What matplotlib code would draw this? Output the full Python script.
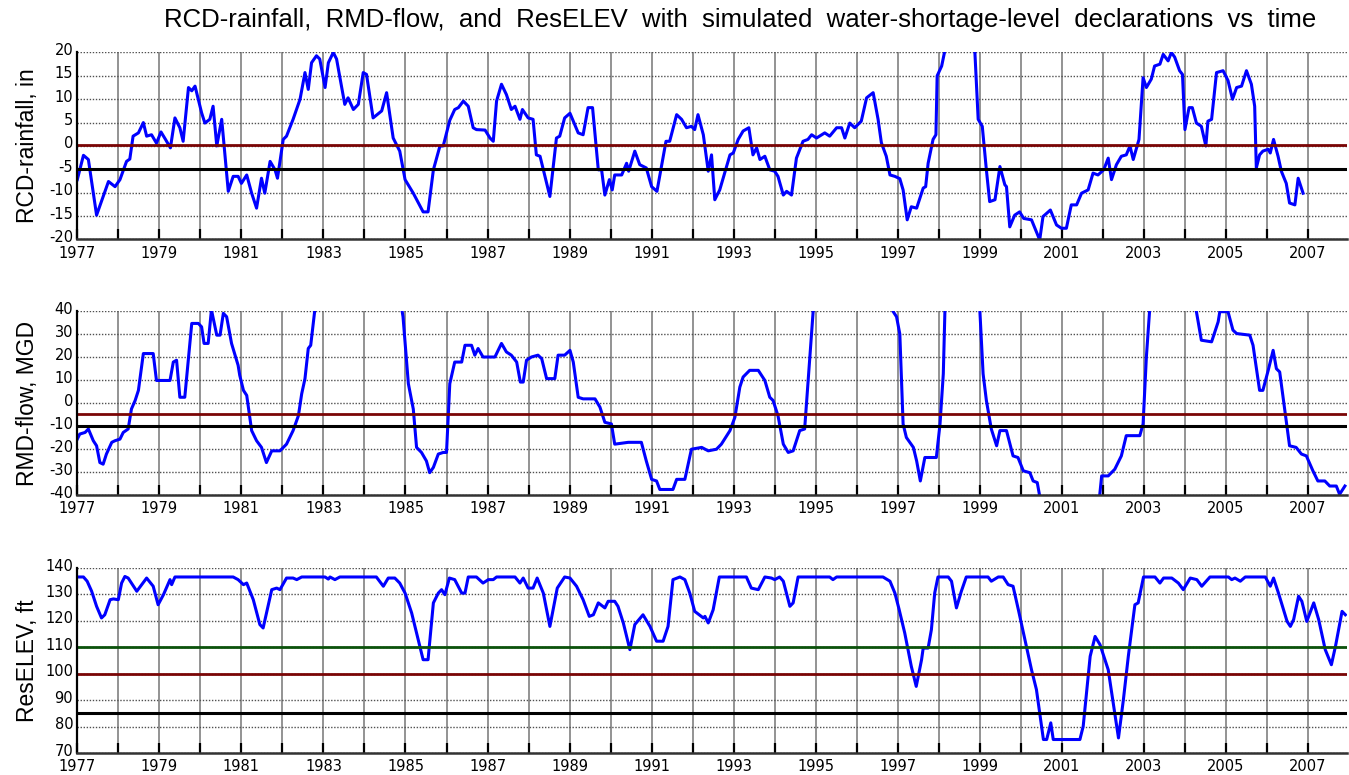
import numpy as np
import matplotlib
matplotlib.use("Agg")
import matplotlib.pyplot as plt
import matplotlib.transforms as mtransforms

# RCD-rainfall, in (peaks beyond the axis are estimates)
rcd_year = [1977.00, 1977.15, 1977.27, 1977.47, 1977.76, 1977.92, 1978.04, 1978.20, 1978.28, 1978.36,
            1978.49, 1978.61, 1978.69, 1978.81, 1978.93, 1979.04, 1979.15, 1979.27, 1979.38, 1979.50,
            1979.58, 1979.71, 1979.79, 1979.87, 1980.03, 1980.11, 1980.23, 1980.31, 1980.40, 1980.52,
            1980.68, 1980.80, 1980.92, 1981.00, 1981.13, 1981.25, 1981.37, 1981.49, 1981.57, 1981.70,
            1981.82, 1981.88, 1982.02, 1982.10, 1982.26, 1982.43, 1982.55, 1982.63, 1982.71, 1982.83,
            1982.91, 1983.04, 1983.12, 1983.24, 1983.32, 1983.52, 1983.60, 1983.73, 1983.85, 1983.97,
            1984.05, 1984.21, 1984.42, 1984.54, 1984.70, 1984.86, 1984.99, 1985.19, 1985.43, 1985.55,
            1985.68, 1985.84, 1985.92, 1986.08, 1986.20, 1986.29, 1986.41, 1986.53, 1986.65, 1986.73,
            1986.94, 1987.06, 1987.14, 1987.22, 1987.34, 1987.46, 1987.58, 1987.67, 1987.79, 1987.85,
            1987.99, 1988.11, 1988.19, 1988.28, 1988.52, 1988.68, 1988.76, 1988.88, 1989.01, 1989.21,
            1989.33, 1989.45, 1989.56, 1989.70, 1989.78, 1989.86, 1989.97, 1990.04, 1990.10, 1990.27,
            1990.39, 1990.44, 1990.59, 1990.71, 1990.87, 1991.00, 1991.13, 1991.35, 1991.44, 1991.61,
            1991.73, 1991.85, 1991.97, 1992.05, 1992.13, 1992.26, 1992.38, 1992.46, 1992.54, 1992.66,
            1992.78, 1992.91, 1992.99, 1993.11, 1993.23, 1993.37, 1993.47, 1993.56, 1993.64, 1993.76,
            1993.88, 1994.00, 1994.08, 1994.21, 1994.29, 1994.41, 1994.53, 1994.69, 1994.81, 1994.90,
            1995.02, 1995.22, 1995.34, 1995.51, 1995.63, 1995.71, 1995.83, 1995.95, 1996.11, 1996.24,
            1996.40, 1996.52, 1996.60, 1996.72, 1996.81, 1996.93, 1997.05, 1997.13, 1997.23, 1997.33,
            1997.46, 1997.62, 1997.68, 1997.74, 1997.86, 1997.93, 1997.96, 1998.07, 1998.15, 1998.45,
            1998.88, 1998.96, 1999.06, 1999.16, 1999.24, 1999.37, 1999.49, 1999.61, 1999.65, 1999.73,
            1999.85, 1999.97, 2000.07, 2000.26, 2000.38, 2000.46, 2000.54, 2000.72, 2000.87, 2000.99,
            2001.11, 2001.23, 2001.36, 2001.48, 2001.64, 2001.76, 2001.88, 2002.02, 2002.13, 2002.21,
            2002.33, 2002.45, 2002.57, 2002.66, 2002.74, 2002.88, 2002.98, 2003.06, 2003.18, 2003.26,
            2003.39, 2003.47, 2003.59, 2003.67, 2003.75, 2003.87, 2003.94, 2004.00, 2004.10, 2004.18,
            2004.28, 2004.40, 2004.51, 2004.56, 2004.65, 2004.77, 2004.93, 2005.05, 2005.16, 2005.26,
            2005.38, 2005.50, 2005.62, 2005.70, 2005.74, 2005.82, 2005.90, 2006.03, 2006.08, 2006.16,
            2006.27, 2006.35, 2006.47, 2006.55, 2006.68, 2006.76, 2006.88]
rcd_in = [-7.2, -2.0, -2.9, -14.8, -7.6, -8.7, -7.2, -3.3, -2.8, 2.1,
          2.8, 5.0, 2.1, 2.4, 0.6, 3.0, 1.4, -0.4, 6.0, 3.9,
          1.0, 12.5, 11.8, 12.8, 7.1, 4.9, 5.7, 8.5, 0.0, 5.7,
          -9.7, -6.5, -6.5, -8.0, -6.2, -10.1, -13.3, -6.9, -10.1, -3.3,
          -5.1, -6.9, 1.4, 2.1, 5.7, 10.0, 15.7, 12.1, 17.8, 19.3,
          18.6, 12.5, 17.8, 20.0, 18.6, 8.9, 10.3, 7.8, 8.9, 15.7,
          15.3, 6.0, 7.5, 11.4, 1.7, -1.1, -7.2, -10.1, -14.1, -14.1,
          -5.1, 0.0, 0.0, 5.5, 7.8, 8.2, 9.6, 8.5, 3.9, 3.5,
          3.4, 1.7, 1.0, 9.6, 13.2, 11.0, 7.8, 8.5, 5.7, 7.8,
          6.0, 5.7, -1.9, -2.2, -10.8, 1.7, 2.1, 6.0, 7.0, 2.8,
          2.4, 8.2, 8.2, -5.1, -5.1, -10.5, -7.2, -9.4, -6.2, -6.2,
          -3.7, -5.4, -1.1, -4.0, -4.7, -8.7, -9.7, 1.0, 1.0, 6.7,
          5.7, 3.9, 4.2, 3.5, 6.7, 2.4, -5.4, -1.9, -11.5, -9.4,
          -5.8, -1.9, -1.5, 1.4, 3.2, 3.9, -1.9, -0.4, -2.9, -2.2,
          -5.1, -5.4, -6.5, -10.5, -9.7, -10.5, -2.6, 1.0, 1.4, 2.4,
          1.7, 2.8, 2.1, 3.9, 3.9, 1.7, 4.9, 3.9, 5.3, 10.3,
          11.4, 5.7, 0.7, -2.2, -6.2, -6.5, -7.0, -9.4, -15.8, -13.0,
          -13.3, -9.0, -8.7, -3.7, 1.4, 2.4, 15.0, 17.1, 20.5, 30.0,
          20.0, 5.7, 4.2, -5.1, -11.9, -11.5, -4.4, -8.3, -8.7, -17.3,
          -14.8, -14.1, -15.5, -15.8, -18.4, -20.1, -15.1, -13.7, -16.9, -17.6,
          -17.6, -12.6, -12.6, -10.1, -9.4, -5.8, -6.2, -5.1, -2.6, -7.2,
          -4.0, -2.2, -1.9, 0.0, -2.9, 1.4, 14.6, 12.5, 14.3, 17.1,
          17.5, 19.6, 18.2, 20.0, 19.0, 16.1, 15.3, 3.5, 8.2, 8.2,
          4.9, 4.2, 0.0, 5.3, 5.7, 15.7, 16.1, 14.0, 10.0, 12.5,
          12.8, 16.1, 13.2, 8.5, -4.7, -1.9, -1.1, -0.7, -1.5, 1.4,
          -2.2, -5.4, -8.0, -12.2, -12.6, -6.9, -10.1]

# RMD-flow, MGD
rmd_year = [1977.00, 1977.06, 1977.19, 1977.27, 1977.39, 1977.47, 1977.55, 1977.63, 1977.71, 1977.84,
            1977.92, 1978.04, 1978.12, 1978.24, 1978.32, 1978.41, 1978.49, 1978.61, 1978.85, 1978.93,
            1979.26, 1979.34, 1979.42, 1979.50, 1979.62, 1979.79, 1979.95, 1980.03, 1980.09, 1980.19,
            1980.27, 1980.40, 1980.48, 1980.56, 1980.64, 1980.76, 1980.92, 1980.96, 1981.05, 1981.13,
            1981.25, 1981.37, 1981.49, 1981.61, 1981.74, 1981.94, 1982.10, 1982.26, 1982.39, 1982.47,
            1982.55, 1982.63, 1982.69, 1982.79, 1983.20, 1984.00, 1984.60, 1984.94, 1985.07, 1985.19,
            1985.27, 1985.39, 1985.51, 1985.59, 1985.68, 1985.80, 1985.92, 1986.00, 1986.08, 1986.20,
            1986.37, 1986.45, 1986.61, 1986.69, 1986.77, 1986.89, 1987.18, 1987.34, 1987.46, 1987.58,
            1987.71, 1987.80, 1987.87, 1987.95, 1988.07, 1988.23, 1988.32, 1988.44, 1988.64, 1988.72,
            1988.88, 1989.01, 1989.09, 1989.21, 1989.33, 1989.62, 1989.74, 1989.86, 1990.02, 1990.10,
            1990.43, 1990.75, 1990.87, 1991.00, 1991.12, 1991.20, 1991.52, 1991.61, 1991.81, 1991.97,
            1992.22, 1992.38, 1992.58, 1992.70, 1992.91, 1993.03, 1993.15, 1993.23, 1993.39, 1993.60,
            1993.76, 1993.88, 1993.96, 1994.08, 1994.21, 1994.33, 1994.45, 1994.61, 1994.73, 1994.81,
            1994.94, 1995.50, 1996.30, 1996.89, 1996.97, 1997.05, 1997.13, 1997.21, 1997.38, 1997.46,
            1997.55, 1997.66, 1997.94, 1998.03, 1998.11, 1998.15, 1998.55, 1999.00, 1999.08, 1999.16,
            1999.28, 1999.41, 1999.49, 1999.65, 1999.81, 1999.93, 2000.06, 2000.22, 2000.30, 2000.40,
            2000.46, 2001.20, 2001.92, 2001.97, 2002.13, 2002.29, 2002.45, 2002.57, 2002.90, 2002.98,
            2003.06, 2003.14, 2003.70, 2004.28, 2004.40, 2004.65, 2004.81, 2004.85, 2005.05, 2005.17,
            2005.26, 2005.58, 2005.66, 2005.82, 2005.90, 2006.03, 2006.15, 2006.23, 2006.31, 2006.55,
            2006.71, 2006.84, 2006.96, 2007.12, 2007.24, 2007.41, 2007.53, 2007.69, 2007.77, 2007.90]
rmd_mgd = [-15.7, -13.5, -12.8, -11.3, -16.4, -18.6, -25.9, -26.6, -22.2, -17.1,
           -16.4, -15.7, -12.8, -11.3, -2.6, 1.1, 5.5, 21.5, 21.5, 9.8,
           9.8, 17.8, 18.6, 2.5, 2.5, 34.6, 34.6, 33.1, 25.9, 25.9,
           40.5, 29.5, 29.5, 39.0, 37.5, 25.9, 16.4, 12.0, 5.5, 3.3,
           -12.0, -16.4, -19.3, -25.9, -20.8, -20.8, -17.9, -12.0, -5.5, 4.0,
           10.6, 23.7, 25.1, 40.5, 85.0, 110.0, 75.0, 37.5, 8.4, -2.6,
           -19.3, -21.5, -25.2, -30.3, -28.0, -22.2, -21.5, -21.5, 8.4, 17.8,
           17.8, 25.1, 25.1, 20.8, 23.7, 20.0, 20.0, 25.9, 22.2, 20.8,
           17.8, 9.1, 9.1, 18.6, 20.0, 20.8, 19.3, 10.6, 10.6, 20.8,
           20.8, 22.9, 17.8, 2.5, 1.8, 1.8, -1.8, -8.4, -9.1, -17.9,
           -17.1, -17.1, -25.2, -33.2, -33.9, -37.6, -37.6, -33.2, -33.2, -20.1,
           -19.3, -20.8, -20.1, -17.9, -12.0, -6.2, 6.9, 11.3, 14.2, 14.2,
           9.8, 2.5, 1.1, -5.5, -17.9, -21.5, -20.8, -12.0, -11.3, 8.4,
           40.5, 110.0, 90.0, 39.7, 37.5, 30.0, -9.1, -15.0, -19.3, -25.2,
           -33.9, -23.7, -23.7, -9.1, 12.7, 40.5, 80.0, 40.5, 12.7, 1.1,
           -11.3, -18.6, -12.0, -12.0, -23.0, -23.7, -29.5, -30.3, -33.9, -34.6,
           -40.5, -50.0, -40.5, -31.7, -31.7, -28.8, -23.0, -14.2, -14.2, -9.1,
           20.0, 40.5, 80.0, 39.7, 27.3, 26.6, 35.3, 39.7, 39.7, 31.7,
           30.2, 29.5, 25.1, 5.5, 5.5, 14.2, 22.9, 14.9, 13.5, -18.6,
           -19.3, -22.2, -23.0, -29.5, -33.9, -33.9, -36.1, -36.1, -39.7, -36.1]

# ResELEV, ft
res_year = [1977.00, 1977.15, 1977.24, 1977.35, 1977.47, 1977.59, 1977.67, 1977.80, 1977.88, 1978.00,
            1978.08, 1978.16, 1978.24, 1978.45, 1978.69, 1978.85, 1978.97, 1979.10, 1979.26, 1979.30,
            1979.38, 1980.80, 1980.92, 1981.05, 1981.13, 1981.29, 1981.45, 1981.53, 1981.65, 1981.74,
            1981.86, 1981.94, 1982.10, 1982.26, 1982.35, 1982.47, 1983.04, 1983.12, 1983.16, 1983.28,
            1983.40, 1984.29, 1984.46, 1984.58, 1984.74, 1984.86, 1984.99, 1985.15, 1985.27, 1985.43,
            1985.55, 1985.68, 1985.80, 1985.88, 1985.96, 1986.07, 1986.20, 1986.37, 1986.45, 1986.53,
            1986.73, 1986.89, 1987.02, 1987.14, 1987.22, 1987.67, 1987.79, 1987.87, 1987.99, 1988.11,
            1988.21, 1988.36, 1988.52, 1988.70, 1988.88, 1989.01, 1989.17, 1989.33, 1989.48, 1989.58,
            1989.70, 1989.86, 1989.94, 1990.10, 1990.18, 1990.31, 1990.47, 1990.59, 1990.79, 1990.96,
            1991.12, 1991.28, 1991.40, 1991.52, 1991.69, 1991.81, 1991.93, 1992.05, 1992.26, 1992.30,
            1992.38, 1992.50, 1992.65, 1993.31, 1993.43, 1993.60, 1993.76, 1993.92, 1994.00, 1994.12,
            1994.21, 1994.37, 1994.45, 1994.57, 1995.34, 1995.42, 1995.51, 1996.64, 1996.81, 1996.93,
            1997.03, 1997.17, 1997.33, 1997.45, 1997.58, 1997.62, 1997.74, 1997.82, 1997.90, 1997.98,
            1998.23, 1998.31, 1998.43, 1998.55, 1998.67, 1999.20, 1999.28, 1999.45, 1999.57, 1999.69,
            1999.81, 1999.94, 2000.10, 2000.26, 2000.38, 2000.55, 2000.63, 2000.73, 2000.79, 2001.44,
            2001.52, 2001.60, 2001.69, 2001.81, 2001.93, 2002.13, 2002.38, 2002.50, 2002.62, 2002.78,
            2002.86, 2002.99, 2003.27, 2003.39, 2003.48, 2003.68, 2003.84, 2003.96, 2004.13, 2004.29,
            2004.41, 2004.61, 2005.06, 2005.14, 2005.22, 2005.35, 2005.47, 2005.96, 2006.08, 2006.16,
            2006.28, 2006.49, 2006.57, 2006.65, 2006.77, 2006.85, 2006.97, 2007.14, 2007.26, 2007.42,
            2007.57, 2007.67, 2007.83, 2007.91]
res_ft = [136.6, 136.6, 135.0, 131.2, 125.5, 121.1, 122.3, 128.0, 128.3, 128.0,
          134.3, 136.8, 136.2, 131.2, 136.2, 133.1, 126.1, 129.9, 135.6, 133.7,
          136.6, 136.6, 135.6, 133.7, 134.3, 128.0, 118.6, 117.3, 125.5, 131.8,
          132.4, 131.8, 136.2, 136.2, 135.6, 136.6, 136.6, 135.8, 136.6, 135.6,
          136.6, 136.6, 133.1, 136.2, 136.2, 134.3, 130.5, 123.0, 115.4, 105.3,
          105.3, 126.8, 130.5, 131.8, 129.9, 136.2, 135.6, 130.5, 130.5, 136.6,
          136.6, 134.3, 135.6, 135.6, 136.6, 136.6, 134.3, 136.2, 132.4, 132.4,
          136.2, 130.5, 117.9, 132.4, 136.6, 136.2, 133.1, 128.0, 121.7, 122.3,
          126.8, 124.9, 127.4, 127.4, 125.5, 119.2, 109.1, 118.6, 122.3, 117.9,
          112.3, 112.3, 117.9, 135.6, 136.6, 135.6, 130.5, 123.6, 121.1, 121.7,
          119.2, 124.2, 136.6, 136.6, 132.4, 131.8, 136.6, 136.2, 135.6, 136.6,
          135.0, 125.5, 126.8, 136.6, 136.6, 135.6, 136.6, 136.6, 135.0, 130.5,
          124.5, 115.4, 102.8, 95.2, 105.3, 109.7, 109.7, 116.7, 130.5, 136.6,
          136.6, 135.0, 124.9, 131.2, 136.6, 136.6, 135.0, 136.6, 136.6, 133.7,
          133.1, 124.2, 112.9, 101.5, 94.0, 75.1, 75.1, 81.4, 75.1, 75.1,
          80.1, 92.7, 106.6, 114.1, 111.0, 101.5, 75.7, 90.2, 106.6, 126.1,
          126.8, 136.6, 136.6, 134.3, 136.2, 136.2, 134.3, 131.8, 136.2, 135.6,
          133.1, 136.6, 136.6, 135.6, 136.2, 135.0, 136.6, 136.6, 133.1, 136.2,
          130.5, 119.8, 117.9, 120.5, 129.3, 127.4, 119.8, 126.8, 120.5, 109.1,
          103.4, 110.4, 123.6, 122.3]

# shortage-level declaration thresholds per panel
rcd_levels = [0.3, -5]
rmd_levels = [-5, -10]
res_levels = [110, 100, 85]

year_ticks = list(range(1977, 2008))
year_labels = [str(y) if (y - 1977) % 2 == 0 else '' for y in year_ticks]

LEVEL_COLORS = {'green': '#0b520b', 'red': '#7a0505', 'black': '#000000'}


def style_axis(ax, ylim, yticks, ylabel):
    ax.set_xlim(1977, 2007.95)
    ax.set_ylim(*ylim)
    ax.set_xticks(year_ticks)
    ax.set_xticklabels(year_labels, fontsize=10.5, family='DejaVu Sans')
    ax.set_yticks(yticks)
    ax.set_yticklabels([str(v) for v in yticks], fontsize=10.5, family='DejaVu Sans')
    ax.tick_params(axis='x', direction='in', length=7, width=1.6, color='black', pad=4.5)
    ax.tick_params(axis='y', length=0, pad=3)
    # nudge y tick labels up a little, like the original
    shift = mtransforms.ScaledTranslation(0, 2.5 / 72, ax.figure.dpi_scale_trans)
    for lab in ax.get_yticklabels():
        lab.set_transform(lab.get_transform() + shift)
    ax.grid(axis='x', color='#808080', linewidth=1.2, linestyle='-')
    ax.grid(axis='y', color='#505050', linewidth=1.0, linestyle=(0, (1, 1.2)))
    ax.set_axisbelow(True)
    for side in ('top', 'right'):
        ax.spines[side].set_visible(False)
    ax.spines['left'].set_linewidth(1.6)
    ax.spines['left'].set_color('black')
    ax.spines['bottom'].set_linewidth(1.8)
    ax.spines['bottom'].set_color('#333333')
    ax.set_ylabel(ylabel, fontsize=16.5, family='Liberation Sans')
    ax.yaxis.set_label_coords(-0.0305, 0.5)


def main():
    fig = plt.figure(figsize=(13.49, 7.75), dpi=100)

    ax1 = fig.add_axes([0.0573, 0.691, 0.9412, 0.2413])
    ax2 = fig.add_axes([0.0573, 0.3613, 0.9412, 0.2374])
    ax3 = fig.add_axes([0.0573, 0.0284, 0.9412, 0.2387])

    line_kw = dict(color='#0000ff', linewidth=2.2)

    ax1.plot(rcd_year, rcd_in, **line_kw)
    ax1.axhline(rcd_levels[0], color=LEVEL_COLORS['red'], linewidth=2.0)
    ax1.axhline(rcd_levels[1], color=LEVEL_COLORS['black'], linewidth=2.2)
    style_axis(ax1, (-20, 20), list(range(-20, 21, 5)), 'RCD-rainfall, in')

    ax2.plot(rmd_year, rmd_mgd, **line_kw)
    ax2.axhline(rmd_levels[0], color=LEVEL_COLORS['red'], linewidth=2.0)
    ax2.axhline(rmd_levels[1], color=LEVEL_COLORS['black'], linewidth=2.2)
    style_axis(ax2, (-40, 40), list(range(-40, 41, 10)), 'RMD-flow, MGD')

    ax3.plot(res_year, res_ft, **line_kw)
    ax3.axhline(res_levels[0], color=LEVEL_COLORS['green'], linewidth=2.0)
    ax3.axhline(res_levels[1], color=LEVEL_COLORS['red'], linewidth=2.0)
    ax3.axhline(res_levels[2], color=LEVEL_COLORS['black'], linewidth=2.2)
    style_axis(ax3, (70, 140), list(range(70, 141, 10)), 'ResELEV, ft')

    fig.text(0.5486, 0.974,
             'RCD-rainfall,  RMD-flow,  and  ResELEV  with  simulated  '
             'water-shortage-level  declarations  vs  time',
             ha='center', va='center', fontsize=18.5, family='Liberation Sans')

    fig.savefig('out.png', dpi=100)


if __name__ == "__main__":
    main()
